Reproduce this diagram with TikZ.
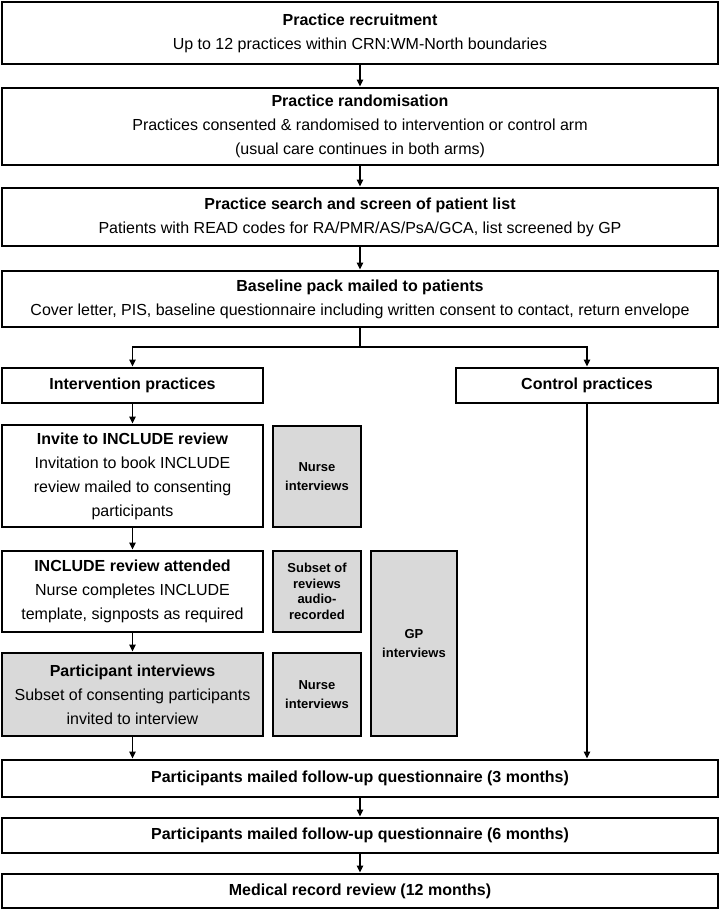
\documentclass[tikz,border=0pt]{standalone}
\usepackage{fontspec}
\setmainfont{Liberation Sans}
\usetikzlibrary{arrows.meta}
\begin{document}
\begin{tikzpicture}[x=1pt,y=-1pt,
  box/.style={draw=black,line width=2.6pt,fill=white,inner sep=0pt,align=center,
    font=\fontsize{16}{24}\selectfont},
  gbox/.style={box,fill=black!15},
  side/.style={draw=black,line width=2.6pt,fill=black!15,inner sep=0pt,align=center,
    font=\fontsize{13}{18.5}\selectfont\bfseries},
  conn/.style={line width=1.8pt},
  arr/.style={conn,-{Triangle[length=7pt,width=6pt]}}]
\useasboundingbox (0,0) rectangle (720,911);
\node[box,minimum width=716,minimum height=62] (B1) at (360,33)
  {\textbf{Practice recruitment}\\Up to 12 practices within CRN:WM-North boundaries};
\node[box,minimum width=716,minimum height=77] (B2) at (360,126.5)
  {\textbf{Practice randomisation}\\Practices consented \& randomised to intervention or control arm\\(usual care continues in both arms)};
\node[box,minimum width=716,minimum height=58] (B3) at (360,217)
  {\textbf{Practice search and screen of patient list}\\Patients with READ codes for RA/PMR/AS/PsA/GCA, list screened by GP};
\node[box,minimum width=716,minimum height=56] (B4) at (360,299)
  {\textbf{Baseline pack mailed to patients}\\Cover letter, PIS, baseline questionnaire including written consent to contact, return envelope};
\coordinate (split) at (360,347);
\node[box,minimum width=261,minimum height=35] (Int) at (132.5,385.5) {\textbf{Intervention practices}};
\node[box,minimum width=262,minimum height=35] (Ctrl) at (587,385.5) {\textbf{Control practices}};
\node[box,minimum width=261,minimum height=102] (Inv) at (132.5,476)
  {\textbf{Invite to INCLUDE review}\\Invitation to book INCLUDE\\review mailed to consenting\\participants};
\node[side,minimum width=88,minimum height=101] (N1) at (317,476.5) {Nurse\\interviews};
\node[box,minimum width=261,minimum height=81] (Att) at (132.5,591.5)
  {\textbf{INCLUDE review attended}\\Nurse completes INCLUDE\\template, signposts as required};
\node[side,minimum width=88,minimum height=81,font=\fontsize{13}{15.5}\selectfont\bfseries] (Sub) at (317,591.5)
  {Subset of\\reviews\\audio-\\recorded};
\node[side,minimum width=86,minimum height=185] (GP) at (414,643.5) {GP\\interviews};
\node[gbox,minimum width=261,minimum height=83] (Part) at (132.5,694.5)
  {\textbf{Participant interviews}\\Subset of consenting participants\\invited to interview};
\node[side,minimum width=88,minimum height=83] (N2) at (317,694.5) {Nurse\\interviews};
\node[box,minimum width=716,minimum height=37,font=\fontsize{16}{24}\selectfont\bfseries] (M3) at (360,778.5)
  {Participants mailed follow-up questionnaire (3 months)};
\node[box,minimum width=716,minimum height=35,font=\fontsize{16}{24}\selectfont\bfseries] (M6) at (360,835.5)
  {Participants mailed follow-up questionnaire (6 months)};
\node[box,minimum width=716,minimum height=34,font=\fontsize{16}{24}\selectfont\bfseries] (M12) at (360,891)
  {Medical record review (12 months)};
\draw[arr] (B1) -- (B2);
\draw[arr] (B2) -- (B3);
\draw[arr] (B3) -- (B4);
\draw[conn] (B4.south) -- (split);
\draw[arr] (split) -| (Int.north);
\draw[arr] (split) -| (Ctrl.north);
\draw[arr] (Int) -- (Inv);
\draw[arr] (Inv) -- (Att);
\draw[arr] (Att) -- (Part);
\draw[arr] (Part.south) -- (Part.south |- M3.north);
\draw[arr] (Ctrl.south) -- (Ctrl.south |- M3.north);
\draw[arr] (M3) -- (M6);
\draw[arr] (M6) -- (M12);
\end{tikzpicture}
\end{document}
